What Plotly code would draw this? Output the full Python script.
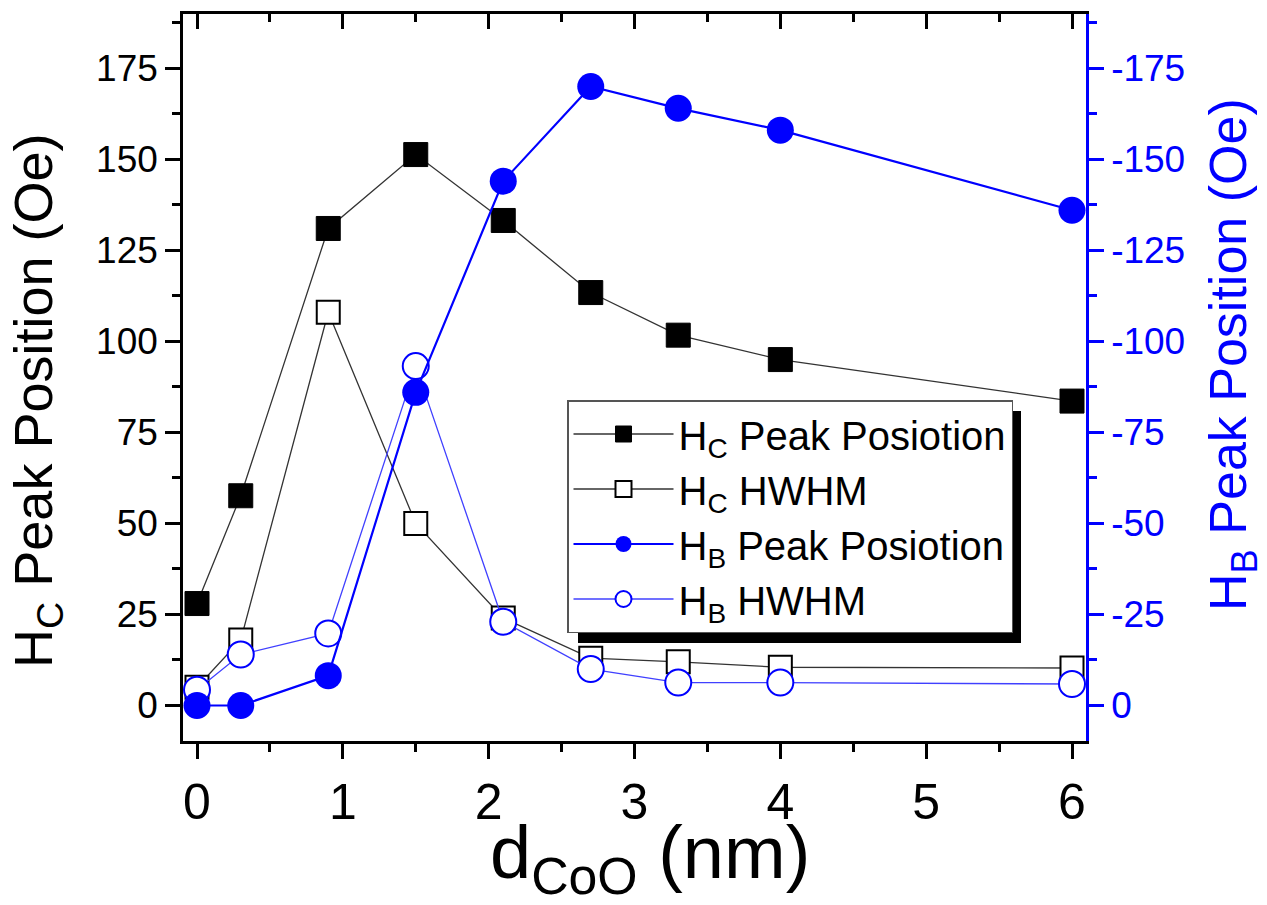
import plotly.graph_objects as go

# ---- data ----
d_coo = [0, 0.3, 0.9, 1.5, 2.1, 2.7, 3.3, 4, 6]
hc_peak = [28, 57.6, 131, 151.3, 133.2, 113.4, 101.7, 95, 83.6]
hc_hwhm = [5, 18, 108, 50, 24, 13, 12, 10.5, 10.3]
hb_peak = [0, 0, -8.2, -86, -144, -170, -164, -158, -136]   # right axis (Oe)
hb_hwhm = [4.3, 14, 19.8, 93.2, 23, 10, 6.3, 6.3, 5.9]

left_ticks = [0, 25, 50, 75, 100, 125, 150, 175]
right_ticks = [0, -25, -50, -75, -100, -125, -150, -175]
right_ticktext = ["0", "-25", "-50", "-75", "-100", "-125", "-150", "-175"]
x_ticks = [0, 1, 2, 3, 4, 5, 6]

FONT = "Arial, Liberation Sans, sans-serif"
BLUE = "#0000ff"

# plot-area geometry in pixels (for paper-coordinate placement of decorations)
W, H = 1267, 905
ML, MR, MT, MB = 183, 181, 14, 164
PW, PH = W - ML - MR, H - MT - MB


def px(xp):
    return (xp - ML) / PW


def py(yp):
    return (H - MB - yp) / PH


fig = go.Figure()

fig.add_trace(go.Scatter(
    x=d_coo, y=hc_peak, mode="lines+markers",
    name="H<sub>C</sub> Peak Posiotion",
    line=dict(color="#333333", width=1.3),
    marker=dict(symbol="square", size=24, color="black", line=dict(color="black", width=1)),
))
fig.add_trace(go.Scatter(
    x=d_coo, y=hc_hwhm, mode="lines+markers",
    name="H<sub>C</sub> HWHM",
    line=dict(color="#333333", width=1.3),
    marker=dict(symbol="square", size=23, color="white", line=dict(color="black", width=2)),
))
fig.add_trace(go.Scatter(
    x=d_coo, y=hb_hwhm, mode="lines+markers",
    name="H<sub>B</sub> HWHM",
    line=dict(color="#4040ff", width=1.3),
    marker=dict(symbol="circle", size=26, color="white", line=dict(color=BLUE, width=2)),
    legendrank=4,
))
fig.add_trace(go.Scatter(
    x=d_coo, y=hb_peak, mode="lines+markers", yaxis="y2",
    name="H<sub>B</sub> Peak Posiotion",
    line=dict(color=BLUE, width=2.2),
    marker=dict(symbol="circle", size=27, color=BLUE, line=dict(color=BLUE, width=0)),
    legendrank=3,
))
# invisible trace to carry the mirrored top axis
fig.add_trace(go.Scatter(x=[], y=[], xaxis="x2", showlegend=False, hoverinfo="skip"))

fig.data[0].legendrank = 1
fig.data[1].legendrank = 2

xr = [-0.096, 6.096]
yr = [-9.75, 189.9]

minor_x = [0.5, 1.5, 2.5, 3.5, 4.5, 5.5]
minor_yl = [12.5, 37.5, 62.5, 87.5, 112.5, 137.5, 162.5, 187.5]
minor_yr = [-v for v in minor_yl]

fig.update_layout(
    width=W, height=H,
    margin=dict(l=ML, r=MR, t=MT, b=MB),
    paper_bgcolor="white", plot_bgcolor="white",
    font=dict(family=FONT, color="black"),
    showlegend=True,
    xaxis=dict(
        range=xr, tickmode="array", tickvals=x_ticks,
        showline=True, linecolor="black", linewidth=2.5,
        ticks="outside", ticklen=15, tickwidth=2.5, tickcolor="black",
        minor=dict(tickmode="array", tickvals=minor_x,
                   ticks="outside", ticklen=8, tickwidth=2.5, tickcolor="black"),
        tickfont=dict(size=50, family=FONT, color="black"),
        showgrid=False, zeroline=False,
    ),
    xaxis2=dict(
        range=xr, overlaying="x", side="top", anchor="y",
        tickmode="array", tickvals=x_ticks, showticklabels=False,
        showline=True, linecolor="black", linewidth=2.5,
        ticks="inside", ticklen=15, tickwidth=2.5, tickcolor="black",
        minor=dict(tickmode="array", tickvals=minor_x,
                   ticks="inside", ticklen=8, tickwidth=2.5, tickcolor="black"),
        showgrid=False, zeroline=False,
    ),
    yaxis=dict(
        range=yr, tickmode="array", tickvals=left_ticks,
        showline=True, linecolor="black", linewidth=2.5,
        ticks="outside", ticklen=15, tickwidth=2.5, tickcolor="black",
        minor=dict(tickmode="array", tickvals=minor_yl,
                   ticks="outside", ticklen=8, tickwidth=2.5, tickcolor="black"),
        tickfont=dict(size=37, family=FONT, color="black"),
        showgrid=False, zeroline=False,
    ),
    yaxis2=dict(
        range=[-yr[0], -yr[1]], overlaying="y", side="right", anchor="x",
        tickmode="array", tickvals=right_ticks, ticktext=right_ticktext,
        showline=True, linecolor=BLUE, linewidth=2.5,
        ticks="outside", ticklen=15, tickwidth=2.5, tickcolor=BLUE,
        minor=dict(tickmode="array", tickvals=minor_yr,
                   ticks="outside", ticklen=8, tickwidth=2.5, tickcolor=BLUE),
        tickfont=dict(size=37, family=FONT, color=BLUE),
        showgrid=False, zeroline=False,
    ),
    legend=dict(
        x=px(567), y=py(400), xanchor="left", yanchor="top",
        bgcolor="white", bordercolor="#555555", borderwidth=1.5,
        font=dict(size=40, family=FONT, color="black"),
        itemwidth=100, traceorder="normal",
        tracegroupgap=0,
    ),
    shapes=[dict(
        type="rect", xref="paper", yref="paper",
        x0=px(578), x1=px(1021), y0=py(643), y1=py(411),
        fillcolor="black", line=dict(width=0), layer="above",
    )],
    annotations=[
        dict(text="H<sub>C</sub> Peak Position (Oe)", textangle=-90,
             xref="paper", yref="paper", x=px(37), y=py(401),
             xanchor="center", yanchor="middle", showarrow=False,
             font=dict(size=54, family=FONT, color="black")),
        dict(text="H<sub>B</sub> Peak Position (Oe)", textangle=-90,
             xref="paper", yref="paper", x=px(1232), y=py(355),
             xanchor="center", yanchor="middle", showarrow=False,
             font=dict(size=52, family=FONT, color=BLUE)),
        dict(text="d<sub>CoO</sub> (nm)",
             xref="paper", yref="paper", x=px(650), y=py(858),
             xanchor="center", yanchor="middle", showarrow=False,
             font=dict(size=74, family=FONT, color="black")),
    ],
)

fig.write_html("out.html")
